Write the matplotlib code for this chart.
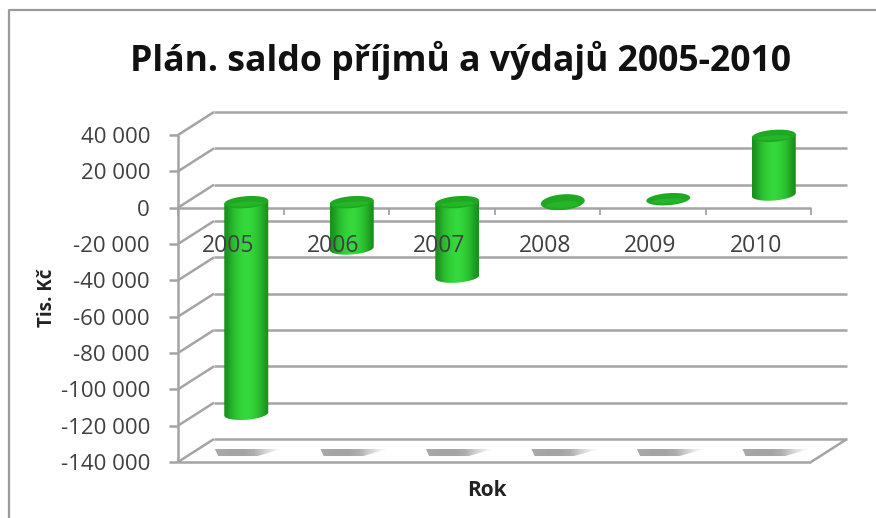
import numpy as np
import matplotlib
matplotlib.use('Agg')
import matplotlib.pyplot as plt
from matplotlib.patches import Polygon

plt.rcParams['font.family'] = ['Open Sans', 'DejaVu Sans']

#values
years = ['2005', '2006', '2007', '2008', '2009', '2010']
bar_bottom = [-116500, -25500, -41000, -1000, 1650, 4200]
bar_top = [0, 0, 0, 1000, 1650, 36500]
y_ticks = [40000, 20000, 0, -20000, -40000, -60000, -80000, -100000, -120000, -140000]
y_labels = ['40 000', '20 000', '0', '-20 000', '-40 000', '-60 000', '-80 000',
            '-100 000', '-120 000', '-140 000']

W, H = 876, 518
grid_col = '#a4a4a4'
text_col = '#404040'

fig = plt.figure(figsize=(W/100, H/100), dpi=100)
#front plane of the 3d box, in pixels: x 178-811, y 135-462
#the axes go one step higher so the 2010 cylinder is not cut off
ax = fig.add_axes([178/W, 1-462/H, (811-178)/W, (462-98.67)/H])
ax.set_xlim(0, 6)
ax.set_ylim(-140000, 60000)
ax.axis('off')

#one pixel in data units
px = 1/105.5
py = 180000/327

#depth of the box
depth_x = 36*px
depth_y = 23*py
#size of the cylinders
bar_halfw = 22*px
ell_h = 6*py
tilt = 1.6*py
y0 = 5.5*py

def ln(xs, ys, col=grid_col, lw=1.8, z=1):
    ax.plot(xs, ys, color=col, lw=lw, zorder=z, clip_on=False, solid_capstyle='butt')

#gridlines on the back wall and on the left wall
for v in y_ticks:
    ln([0, depth_x], [v, v+depth_y])
    ln([depth_x, 6+depth_x], [v+depth_y, v+depth_y])
    ln([-9*px, 0], [v, v])

#floor
ln([0, 6], [-140000, -140000])
ln([6, 6+depth_x], [-140000, -140000+depth_y])
#left axis, zero line and ticks
ln([0, 0], [-140000, 40000])
ln([0, 6], [0, 0], z=4)
for i in range(7):
    ln([i, i], [0, -7*py], z=4, lw=1.3)

#shadows on the floor, they fade out to the right
shadow_img = np.array([[[0.66, 0.66, 0.66], [0.64, 0.64, 0.64], [0.64, 0.64, 0.64], [0.68, 0.68, 0.68],
                        [0.82, 0.82, 0.82], [0.95, 0.95, 0.95]]])
for i in range(6):
    cx = i+0.5
    shadow = Polygon([(cx-0.15, -132850), (cx+0.485, -132850), (cx+0.256, -136700), (cx-0.12, -136700)],
                     closed=True, fc='none', ec='none', zorder=2)
    ax.add_patch(shadow)
    im = ax.imshow(shadow_img, extent=[cx-0.15, cx+0.485, -136700, -132850],
                   aspect='auto', interpolation='bilinear', zorder=2)
    im.set_clip_path(shadow)

#cylinder shading, dark at the sides and bright in the middle
shade = np.array([[0.10, 0.56, 0.12], [0.15, 0.70, 0.17], [0.18, 0.78, 0.20], [0.20, 0.83, 0.23],
                  [0.21, 0.86, 0.24], [0.20, 0.83, 0.23], [0.18, 0.78, 0.20], [0.15, 0.70, 0.17],
                  [0.10, 0.56, 0.12]])
shade_img = shade[np.newaxis, :, :]

t = np.linspace(0, np.pi, 40)
a = np.linspace(0, 2*np.pi, 60)
for i in range(6):
    cx = i+0.5+0.147
    b = bar_bottom[i]
    top = bar_top[i]
    if top-b > 2000:
        xs = cx+bar_halfw*np.cos(t)
        low = np.column_stack([xs[::-1], b+y0-ell_h*np.sin(t)+tilt*(xs[::-1]-cx)/bar_halfw])
        upp = np.column_stack([xs, top+y0+tilt*(xs-cx)/bar_halfw])
        body = Polygon(np.vstack([low, upp]), closed=True, fc='none', ec='none', zorder=5)
        ax.add_patch(body)
        im = ax.imshow(shade_img, extent=[cx-bar_halfw, cx+bar_halfw, b+y0-ell_h-tilt, top+y0+tilt],
                       aspect='auto', interpolation='bicubic', zorder=5)
        im.set_clip_path(body)
        half = ell_h
        mid = top+y0
    else:
        #very short bar, only a disc is seen
        half = ell_h+(top-b)/2
        mid = (top+b)/2+y0
    #top of the cylinder
    xs = cx+bar_halfw*np.cos(a)
    ys = mid+half*np.sin(a)+tilt*np.cos(a)
    ax.add_patch(Polygon(np.column_stack([xs, ys]), closed=True, fc='#1fa822', ec='none', zorder=6))
    xs = cx+bar_halfw*0.75*np.cos(a)
    ys = mid-half*0.3+half*0.4*np.sin(a)+tilt*0.6*np.cos(a)
    ax.add_patch(Polygon(np.column_stack([xs, ys]), closed=True, fc='#25b528', ec='none', zorder=6))

ax.set_xlim(0, 6)
ax.set_ylim(-140000, 60000)

#axis labels
for v, s in zip(y_ticks, y_labels):
    ax.text(-0.265, v-2.5*py, s, ha='right', va='center', fontsize=16, color=text_col, zorder=8)
for i, s in enumerate(years):
    ax.text(i+0.475, -20500-1*py, s, ha='center', va='center', fontsize=16.5, color=text_col, zorder=8)

fig.text(461/W, 1-60/H, 'Plán. saldo příjmů a výdajů 2005-2010', ha='center', va='center',
         fontsize=25.7, fontweight='bold', color='#111111')
fig.text(47/W, 1-298/H, 'Tis. Kč', ha='center', va='center', rotation=90, fontsize=13.5,
         fontweight='bold', color='#222222')
fig.text(487/W, 1-491/H, 'Rok', ha='center', va='center', fontsize=15,
         fontweight='bold', color='#222222')

#chart border, only the top and left sides are in the picture
fig.add_artist(plt.Line2D([9/W, 9/W, 1], [0, 1-10/H, 1-10/H], transform=fig.transFigure,
                          color='#9a9a9a', lw=1.6))

fig.savefig('out.png', dpi=100)
